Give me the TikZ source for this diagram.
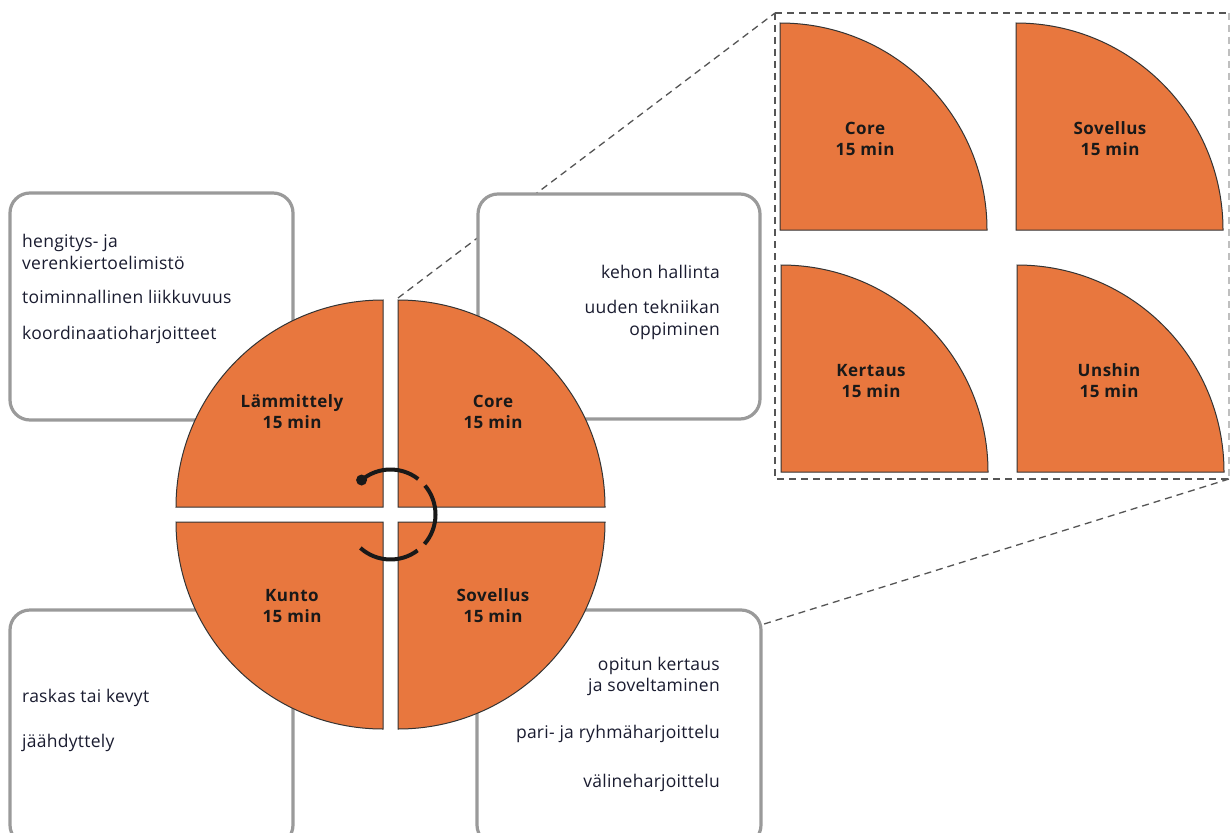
\documentclass[tikz,border=0pt]{standalone}
\usepackage{fontspec}
\setmainfont{Open Sans}[LetterSpace=1.5]
\newfontfamily\labfont{Open Sans}[LetterSpace=3]
\definecolor{orng}{HTML}{E8773E}
\definecolor{txt}{HTML}{1A1C30}
\definecolor{boxgray}{HTML}{9A9A9A}
\definecolor{dashgray}{HTML}{555555}
\begin{document}
\begin{tikzpicture}[x=1pt,y=-1pt,
 infobox/.style={draw=boxgray, line width=3.2pt, fill=white, rounded corners=20pt},
 quarter/.style={fill=orng, draw=black!80, line width=1pt},
 bodytext/.style={inner sep=0pt, text=txt, font=\fontsize{17.5}{22}\selectfont},
 lab/.style={inner sep=0pt, align=center, text=black!90, font=\labfont\bfseries\fontsize{17}{21}\selectfont},
 zoomline/.style={draw=dashgray, line width=1.3pt, dash pattern=on 7pt off 5pt},
 cyc/.style={line width=4pt, draw=black!90}]
\useasboundingbox (0,0) rectangle (1230,832);
\clip (0,0) rectangle (1230,832);
\fill[white] (0,0) rectangle (1230,832);
% zoom connectors
\coordinate (zA) at (398,298);
\coordinate (zB) at (775,13);
\coordinate (zC) at (1229,479);
\coordinate (zE) at (700,644);
\draw[zoomline] (zA) -- (zB);
\draw[zoomline] (zC) -- (zE);
\draw[zoomline] (zB) -- (zB -| zC);
\draw[zoomline] (zB) -- (zB |- zC) -- (zC);
\draw[zoomline, draw=black!25] (zB -| zC) -- (zC);
% info boxes
\draw[infobox] (10,193) rectangle (293,420);
\draw[infobox] (478,194) rectangle (760,419);
\draw[infobox] (10,610) rectangle (293,845);
\draw[infobox] (477,610) rectangle (761,845);
% main quarters
\draw[quarter] (176,507) arc[start angle=180,end angle=90,radius=207pt] -- (383,507) -- cycle;
\draw[quarter] (398,300) arc[start angle=90,end angle=0,radius=207pt] -- (398,507) -- cycle;
\draw[quarter] (176,522) arc[start angle=180,end angle=270,radius=207pt] -- (383,522) -- cycle;
\draw[quarter] (605,522) arc[start angle=0,end angle=-90,radius=207pt] -- (398,522) -- cycle;
% inset quarters
\draw[quarter] (780,23) arc[start angle=90,end angle=0,radius=207pt] -- (780,230) -- cycle;
\draw[quarter] (1016,23) arc[start angle=90,end angle=0,radius=207pt] -- (1016,230) -- cycle;
\draw[quarter] (781,265) arc[start angle=90,end angle=0,radius=207pt] -- (781,472) -- cycle;
\draw[quarter] (1017,265) arc[start angle=90,end angle=0,radius=207pt] -- (1017,472) -- cycle;
% cycle arrow
\coordinate (cc) at (390.5,514.5);
\draw[cyc] (cc) ++(130:45pt) arc[start angle=130,end angle=52,radius=45pt];
\draw[cyc] (cc) ++(40:45pt) arc[start angle=40,end angle=-41,radius=45pt];
\draw[cyc] (cc) ++(-53:45pt) arc[start angle=-53,end angle=-132,radius=45pt];
\fill[black!90] (cc) ++(130:45pt) circle[radius=5.5pt];
% labels
\node[lab] (l1) at (292,412) {Lämmittely\\15 min};
\node[lab] (l2) at (493,412) {Core\\15 min};
\node[lab] (l3) at (292,606) {Kunto\\15 min};
\node[lab] (l4) at (493,606) {Sovellus\\15 min};
\node[lab] (i1) at (865,139) {Core\\15 min};
\node[lab] (i2) at (1110,139) {Sovellus\\15 min};
\node[lab] (i3) at (871,381) {Kertaus\\15 min};
\node[lab] (i4) at (1109,381) {Unshin\\15 min};
% texts
\node[bodytext, anchor=base west] (t1) at (22,247) {hengitys- ja};
\node[bodytext, anchor=base west] (t2) at (22,269) {verenkiertoelimistö};
\node[bodytext, anchor=base west] (t3) at (22,303) {toiminnallinen liikkuvuus};
\node[bodytext, anchor=base west] (t4) at (22,339) {koordinaatioharjoitteet};
\node[bodytext, anchor=base east] (t5) at (720,278) {kehon hallinta};
\node[bodytext, anchor=base east] (t6) at (720,313) {uuden tekniikan};
\node[bodytext, anchor=base east] (t7) at (720,335) {oppiminen};
\node[bodytext, anchor=base west] (t8) at (22,702) {raskas tai kevyt};
\node[bodytext, anchor=base west] (t9) at (22,747) {jäähdyttely};
\node[bodytext, anchor=base east] (t10) at (720,670) {opitun kertaus};
\node[bodytext, anchor=base east] (t11) at (720,691) {ja soveltaminen};
\node[bodytext, anchor=base east] (t12) at (720,738) {pari- ja ryhmäharjoittelu};
\node[bodytext, anchor=base east] (t13) at (720,787) {välineharjoittelu};
\end{tikzpicture}
\end{document}
